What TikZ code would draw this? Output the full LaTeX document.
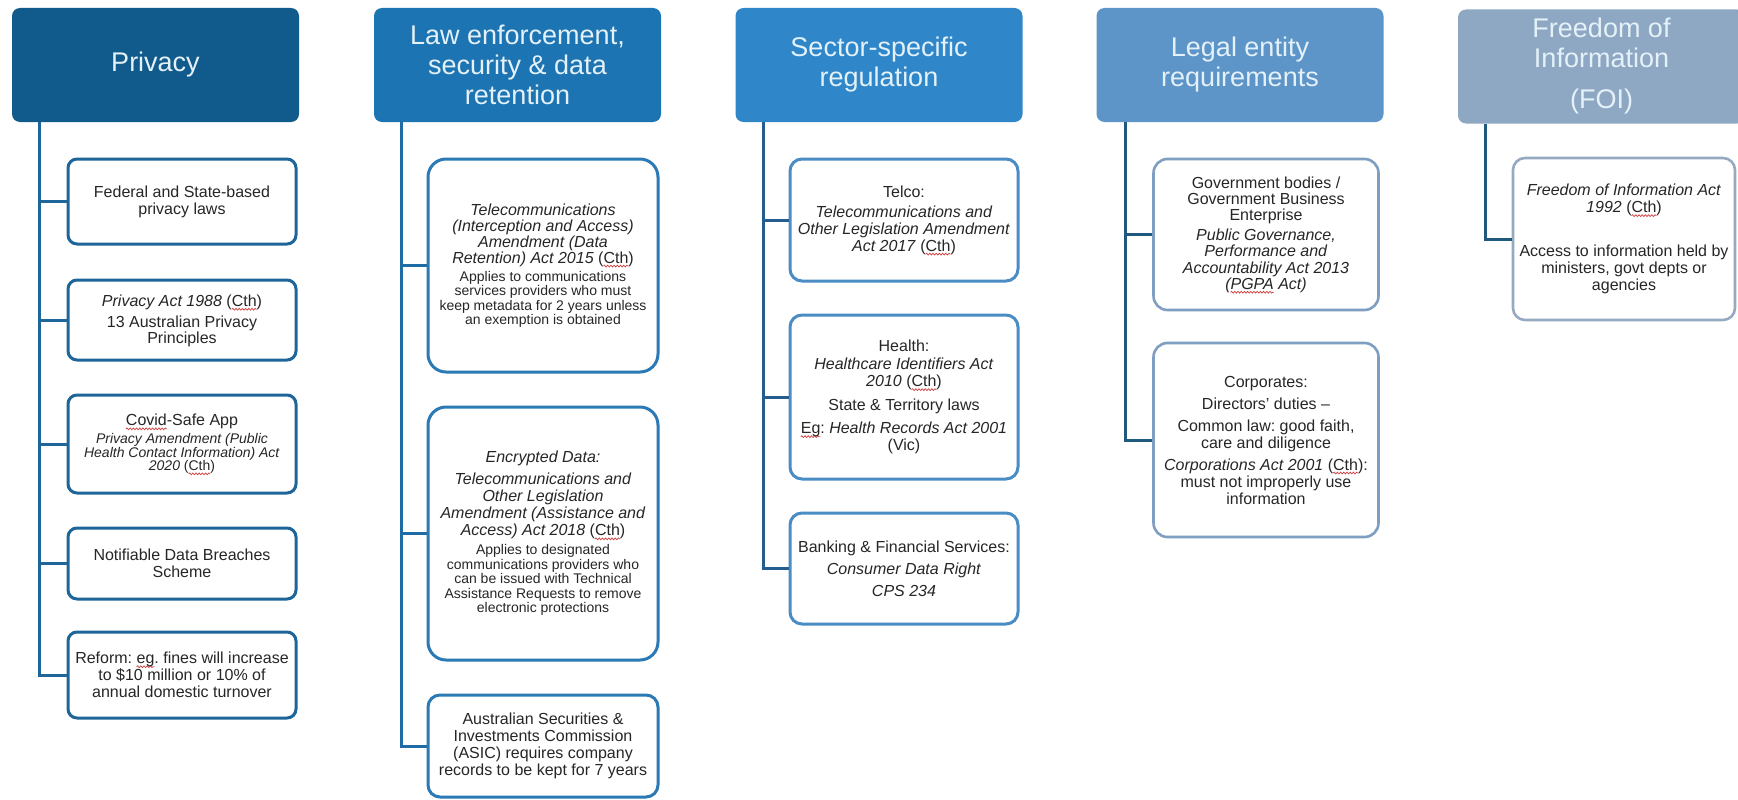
\documentclass[tikz,border=0pt]{standalone}
\usepackage{fontspec}
\setmainfont{Liberation Sans}
\usetikzlibrary{decorations.pathmorphing}
\newsavebox\sqbox
\newdimen\sqw
\newcommand\sqg[1]{\sbox\sqbox{#1}\sqw=\wd\sqbox\rlap{\tikz[baseline=0pt,overlay]{\draw[draw=sqred, line width=0.7pt, sharp corners, decorate, decoration={snake, amplitude=0.9pt, segment length=3.2pt}] (0pt,-3pt) -- (\sqw,-3pt);}}\usebox\sqbox}
\newcommand\sm[1]{{\fontsize{14}{14}\selectfont #1}}
\definecolor{sqred}{HTML}{D23C3C}
\definecolor{hd1}{HTML}{115B8C}
\definecolor{hd2}{HTML}{1C74B2}
\definecolor{hd3}{HTML}{2F87C9}
\definecolor{hd4}{HTML}{5E95C8}
\definecolor{hd5}{HTML}{8EA8C4}
\definecolor{bd1}{HTML}{1E6699}
\definecolor{bd2}{HTML}{2B79B5}
\definecolor{bd3}{HTML}{4A8CC4}
\definecolor{bd4}{HTML}{7E9EC2}
\definecolor{bd5}{HTML}{95AAC2}
\definecolor{ln1}{HTML}{1E6699}
\definecolor{ln2}{HTML}{1F6BA6}
\definecolor{ln3}{HTML}{235E8E}
\definecolor{ln4}{HTML}{1F5A7E}
\definecolor{ln5}{HTML}{1F5A7E}
\definecolor{hdrtext}{HTML}{E4F1F8}
\definecolor{bodytext}{HTML}{262626}
\tikzset{
  hdr/.style={rounded corners=8pt, minimum width=287pt, minimum height=114pt,
    text=hdrtext, font=\fontsize{27}{30}\selectfont, align=center, inner sep=0pt},
  cbox/.style={draw, line width=3pt, fill=white, align=center, inner sep=2pt,
    font=\fontsize{16}{17}\selectfont, text=bodytext},
  c1/.style={cbox, draw=bd1, rounded corners=9pt, minimum width=228pt},
  c2/.style={cbox, draw=bd2, rounded corners=18pt, minimum width=230pt},
  c3/.style={cbox, draw=bd3, rounded corners=12pt, minimum width=228pt},
  c4/.style={cbox, draw=bd4, line width=2.6pt, rounded corners=14pt, minimum width=225pt},
  c5/.style={cbox, draw=bd5, line width=2.6pt, rounded corners=12pt, minimum width=222pt},
  conn/.style={line width=3pt},
}
\begin{document}
\frenchspacing
\begin{tikzpicture}[x=1pt,y=-1pt]
\useasboundingbox[fill=white] (0,0) rectangle (1738,800);

% ---------- column 1
\coordinate (l1) at (39,0);
\node[hdr, fill=hd1] (h1) at (155.5,65) {Privacy};
\node[c1, minimum height=85pt] (b11) at (182,201.5) {Federal and State-based\\privacy laws};
\node[c1, minimum height=80pt] (b12) at (182,320) {\textit{Privacy Act 1988} (\sqg{Cth})\\[4pt]13 Australian Privacy\\[-1pt]Principles\\[-15pt]\mbox{}};
\node[c1, minimum height=98pt] (b13) at (182,444) {\sqg{Covid}-Safe App\\[1pt]\sm{\textit{Privacy Amendment (Public}}\\[-3.5pt]\sm{\textit{Health Contact Information) Act}}\\[-3.5pt]\sm{\textit{2020} (\sqg{Cth})}};
\node[c1, minimum height=71pt] (b14) at (182,563.5) {Notifiable Data Breaches\\Scheme};
\node[c1, minimum height=86pt] (b15) at (182,675) {Reform: \sqg{eg}. fines will increase\\to \$10 million or 10\% of\\annual domestic turnover};
\draw[conn, draw=ln1] (h1.south -| l1) |- (b15.west);
\foreach \b in {b11,b12,b13,b14} \draw[conn, draw=ln1] (l1 |- \b.west) -- (\b.west);

% ---------- column 2
\coordinate (l2) at (401,0);
\node[hdr, fill=hd2] (h2) at (517.5,65) {Law enforcement,\\security \& data\\retention};
\node[c2, minimum height=213pt] (b21) at (543,265.5) {\textit{Telecommunications}\\[-1pt]\textit{(Interception and Access)}\\[-1pt]\textit{Amendment (Data}\\[-1pt]\textit{Retention) Act 2015} (\sqg{Cth})\\[1pt]\sm{Applies to communications}\\[-2.5pt]\sm{services providers who must}\\[-2.5pt]\sm{keep metadata for 2 years unless}\\[-2.5pt]\sm{an exemption is obtained}};
\node[c2, minimum height=253pt] (b22) at (543,533.5) {\textit{Encrypted Data:}\\[5pt]\textit{Telecommunications and}\\\textit{Other Legislation}\\\textit{Amendment (Assistance and}\\\textit{Access) Act 2018} (\sqg{Cth})\\[2pt]\sm{Applies to designated}\\[-2.5pt]\sm{communications providers who}\\[-2.5pt]\sm{can be issued with Technical}\\[-2.5pt]\sm{Assistance Requests to remove}\\[-2.5pt]\sm{electronic protections}};
\node[c2, rounded corners=12pt, minimum height=102pt] (b23) at (543,746) {Australian Securities \&\\Investments Commission\\(ASIC) requires company\\records to be kept for 7 years};
\draw[conn, draw=ln2] (h2.south -| l2) |- (b23.west);
\foreach \b in {b21,b22} \draw[conn, draw=ln2] (l2 |- \b.west) -- (\b.west);

% ---------- column 3
\coordinate (l3) at (763,0);
\node[hdr, fill=hd3] (h3) at (879,65) {Sector-specific\\regulation};
\node[c3, minimum height=122pt] (b31) at (904,220) {Telco:\\[3pt]\textit{Telecommunications and}\\\textit{Other Legislation Amendment}\\\textit{Act 2017} (\sqg{Cth})};
\node[c3, minimum height=164pt] (b32) at (904,397) {Health:\\[1pt]\textit{Healthcare Identifiers Act}\\\textit{2010} (\sqg{Cth})\\[7pt]State \& Territory laws\\[6pt]\sqg{Eg}: \textit{Health Records Act 2001}\\(Vic)};
\node[c3, minimum height=111pt] (b33) at (904,568.5) {Banking \& Financial Services:\\[5pt]\textit{Consumer Data Right}\\[5pt]\textit{CPS 234}};
\draw[conn, draw=ln3] (h3.south -| l3) |- (b33.west);
\foreach \b in {b31,b32} \draw[conn, draw=ln3] (l3 |- \b.west) -- (\b.west);

% ---------- column 4
\coordinate (l4) at (1125,0);
\node[hdr, fill=hd4] (h4) at (1240,65) {Legal entity\\requirements};
\node[c4, minimum height=151pt, font=\fontsize{16}{16.2}\selectfont] (b41) at (1266,234.5) {Government bodies /\\Government Business\\Enterprise\\[4pt]\textit{Public Governance,}\\\textit{Performance and}\\\textit{Accountability Act 2013}\\\textit{(\sqg{PGPA} Act)}};
\node[c4, minimum height=194pt] (b42) at (1266,440) {Corporates:\\[5pt]Directors’ duties –\\[5pt]Common law: good faith,\\care and diligence\\[5pt]\textit{Corporations Act 2001} (\sqg{Cth}):\\must not improperly use\\information};
\draw[conn, draw=ln4] (h4.south -| l4) |- (b42.west);
\draw[conn, draw=ln4] (l4 |- b41.west) -- (b41.west);

% ---------- column 5
\coordinate (l5) at (1485,0);
\node[hdr, fill=hd5] (h5) at (1601.5,66.5) {Freedom of\\Information\\[11pt](FOI)};
\node[c5, minimum height=162pt] (b51) at (1624,239) {\textit{Freedom of Information Act}\\\textit{1992} (\sqg{Cth})\\[27pt]Access to information held by\\ministers, govt depts or\\agencies};
\draw[conn, draw=ln5] (h5.south -| l5) |- (b51.west);
\end{tikzpicture}
\end{document}
